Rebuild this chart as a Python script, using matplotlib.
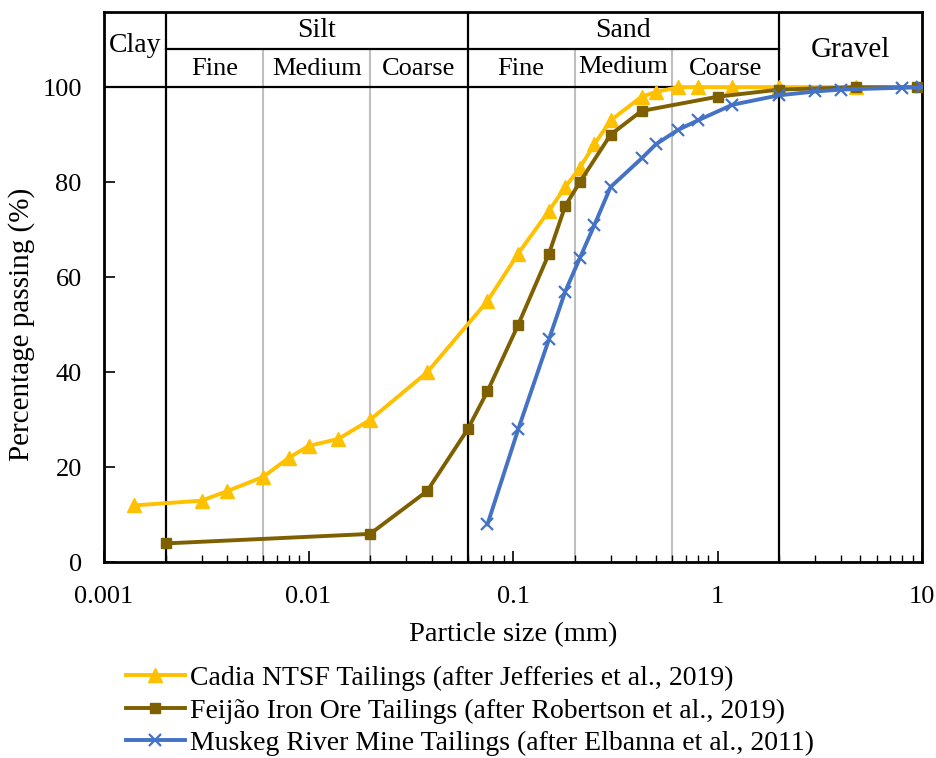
import matplotlib.pyplot as plt
import numpy as np

plt.rcParams['font.family'] = ['Liberation Serif', 'DejaVu Serif']

# sieve sizes (mm) and percentage passing
cadia_x = [0.0014, 0.003, 0.004, 0.006, 0.008, 0.01, 0.014, 0.02, 0.038, 0.075, 0.106, 0.15,
           0.18, 0.212, 0.25, 0.3, 0.425, 0.5, 0.64, 0.8, 1.18, 2.0, 4.75]
cadia_y = [12, 13, 15, 18, 22, 24.5, 26, 30, 40, 55, 65, 74,
           79, 83, 88, 93, 98, 99, 100, 100, 100, 100, 100]

feijao_x = [0.002, 0.02, 0.038, 0.06, 0.075, 0.106, 0.15, 0.18, 0.212, 0.3, 0.425, 1.0, 2.0, 4.75, 9.5]
feijao_y = [4, 6, 15, 28, 36, 50, 65, 75, 80, 90, 95, 98, 99.5, 100, 100]

muskeg_x = [0.075, 0.106, 0.15, 0.18, 0.212, 0.25, 0.3, 0.425, 0.5, 0.64, 0.8, 1.18, 2.0, 3.0, 4.0, 8.0, 10.0]
muskeg_y = [8, 28, 47, 57, 64, 71, 79, 85, 88, 91, 93, 96.3, 98.3, 99.1, 99.5, 99.9, 100]

labels = ['Cadia NTSF Tailings (after Jefferies et al., 2019)',
          'Feijão Iron Ore Tailings (after Robertson et al., 2019)',
          'Muskeg River Mine Tailings (after Elbanna et al., 2011)']

# soil classification boundaries
main_bounds = [0.002, 0.06, 2.0]
sub_bounds = [0.006, 0.02, 0.2, 0.6]

fig = plt.figure(figsize=(9.37, 7.58), dpi=100)
ax = fig.add_axes([0.111, 0.258, 0.873, 0.726])

ax.set_xscale('log')
ax.set_xlim(0.001, 10)
ax.set_ylim(0, 115.8)

# grid of the classification table
for b in main_bounds:
    ax.axvline(b, color='black', lw=1.6, zorder=1)
for b in sub_bounds:
    ax.plot([b, b], [0, 108], color='#BFBFBF', lw=1.5, zorder=1)
ax.axhline(100, color='black', lw=1.6, zorder=1)
ax.plot([0.002, 2.0], [108, 108], color='black', lw=1.6, zorder=1)

ax.text(np.sqrt(0.001 * 0.002), 108.8, 'Clay', ha='center', va='center', fontsize=20)
ax.text(np.sqrt(0.002 * 0.06), 112, 'Silt', ha='center', va='center', fontsize=20)
ax.text(np.sqrt(0.06 * 2), 112, 'Sand', ha='center', va='center', fontsize=20)
ax.text(np.sqrt(2 * 10), 107.8, 'Gravel', ha='center', va='center', fontsize=21)
subs = [(0.002, 0.006, 'Fine'), (0.006, 0.02, 'Medium'), (0.02, 0.06, 'Coarse'),
        (0.06, 0.2, 'Fine'), (0.2, 0.6, 'Medium'), (0.6, 2.0, 'Coarse')]
for lo, hi, t in subs:
    yy = 104.3 if t == 'Medium' and lo == 0.2 else 103.8
    ax.text(np.sqrt(lo * hi), yy, t, ha='center', va='center', fontsize=19)

ax.plot(cadia_x, cadia_y, '-^', color='#FFC000', lw=2.8, ms=9.5, label=labels[0], zorder=3)
ax.plot(feijao_x, feijao_y, '-s', color='#7F6000', lw=2.8, ms=7.5, label=labels[1], zorder=4)
ax.plot(muskeg_x, muskeg_y, '-x', color='#4472C4', lw=2.8, ms=8.5, mew=1.6, label=labels[2], zorder=5)

ax.set_yticks([0, 20, 40, 60, 80, 100])
ax.set_xticks([0.001, 0.01, 0.1, 1, 10])
ax.set_xticklabels(['0.001', '0.01', '0.1', '1', '10'])
ax.tick_params(axis='both', which='both', direction='in', labelsize=19)
ax.tick_params(axis='x', which='major', length=8, width=1.2, pad=17)
ax.tick_params(axis='x', which='minor', length=5, width=1.0)
ax.tick_params(axis='y', which='major', length=8, width=1.2, pad=16)
for s in ax.spines.values():
    s.set_linewidth(2)

ax.set_xlabel('Particle size (mm)', fontsize=20.5, labelpad=10)
ax.set_ylabel('Percentage passing (%)', fontsize=21)
ax.yaxis.set_label_coords(-0.084, 0.433)

fig.legend(loc='upper left', bbox_to_anchor=(0.12, 0.14), frameon=False, fontsize=20,
           handlelength=2.1, handletextpad=0.2, labelspacing=0.25, borderpad=0)

plt.savefig('out.png', dpi=100)
